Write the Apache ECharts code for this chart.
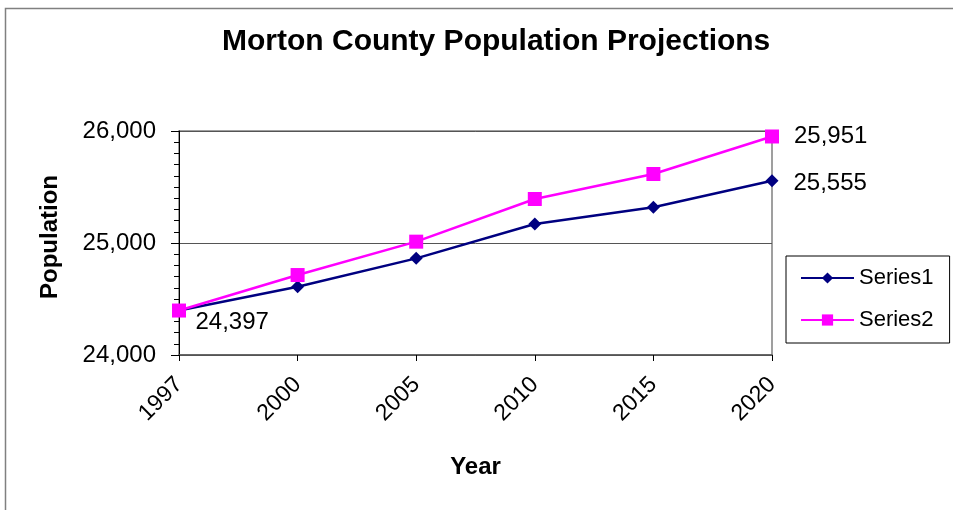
<!DOCTYPE html>
<html><head><meta charset="utf-8">
<script src="https://cdn.jsdelivr.net/npm/echarts@6/dist/echarts.min.js"></script>
<style>html,body{margin:0;padding:0;background:#fff}#c{width:953px;height:510px}</style>
</head><body><div id="c"></div>
<script>
const years = ['1997','2000','2005','2010','2015','2020'];
const series1 = [24397, 24610, 24863, 25170, 25319, 25555];
const series2 = [24397, 24714, 25012, 25393, 25616, 25951];
const yTicks = [24000, 25000, 26000];
const FONT = '"Liberation Sans", Arial, sans-serif';
const fmt = v => v.toLocaleString('en-US');

const chart = echarts.init(document.getElementById('c'), null, {renderer:'canvas'});
function withLabels(arr, idxs, offsets){
  return arr.map((v,i)=>{
    const k = idxs.indexOf(i);
    if(k<0) return v;
    return {value:v, label:{show:true, position:'right', offset:offsets[k], formatter: p=>fmt(p.value), fontSize:24, fontFamily:FONT, color:'#000'}};
  });
}
chart.setOption({
  animation:false,
  backgroundColor:'#fff',
  graphic:[{type:'rect', shape:{x:5.5,y:8.5,width:1000,height:600}, style:{fill:'none', stroke:'#808080', lineWidth:1.5}, silent:true, z:-1}],
  title:{text:'Morton County Population Projections', left:222, top:27, textStyle:{fontFamily:FONT, fontSize:30, fontWeight:'bold', color:'#000'}, padding:0},
  grid:{left:179, right:181, top:131, bottom:155, show:true, borderColor:'#808080', borderWidth:1.5, backgroundColor:'transparent'},
  legend:{orient:'vertical', left:786, top:256, data:['Series1','Series2'], itemWidth:53, itemHeight:14, itemGap:20,
    padding:[11,16,12,14], borderColor:'#000', borderWidth:1, textStyle:{fontFamily:FONT, fontSize:22, color:'#000'}},
  xAxis:{type:'category', data:years, boundaryGap:false,
    name:'Year', nameLocation:'middle', nameGap:100, nameTextStyle:{fontFamily:FONT, fontSize:24, fontWeight:'bold', color:'#000'},
    axisLine:{lineStyle:{color:'#555', width:1.5}}, axisTick:{show:true, length:6, lineStyle:{color:'#000'}},
    axisLabel:{rotate:45, fontFamily:FONT, fontSize:23, color:'#000', margin:26}},
  yAxis:{type:'value', min:yTicks[0], max:yTicks[yTicks.length-1], interval:1000,
    name:'Population', nameLocation:'middle', nameRotate:90, nameGap:117, nameTextStyle:{fontFamily:FONT, fontSize:24, fontWeight:'bold', color:'#000', padding:[0,0,0,12]},
    axisLine:{show:true, lineStyle:{color:'#000', width:1}}, axisTick:{show:true, length:8, lineStyle:{color:'#000'}},
    minorTick:{show:true, splitNumber:10, length:5, lineStyle:{color:'#000'}},
    splitLine:{show:true, lineStyle:{color:'#555', width:1}},
    axisLabel:{formatter:v=>fmt(v), fontFamily:FONT, fontSize:24, color:'#000', margin:23}},
  series:[
    {name:'Series1', type:'line', data:withLabels(series1,[0,5],[[5,12],[10,3]]), color:'#000080', lineStyle:{width:2.5, color:'#000080'},
      symbol:'diamond', symbolSize:13, itemStyle:{color:'#000080'}, z:2},
    {name:'Series2', type:'line', data:withLabels(series2,[5],[[10,0]]), color:'#ff00ff', lineStyle:{width:2.5, color:'#ff00ff'},
      symbol:'rect', symbolSize:14, itemStyle:{color:'#ff00ff'}, z:3}
  ]
});
</script></body></html>
